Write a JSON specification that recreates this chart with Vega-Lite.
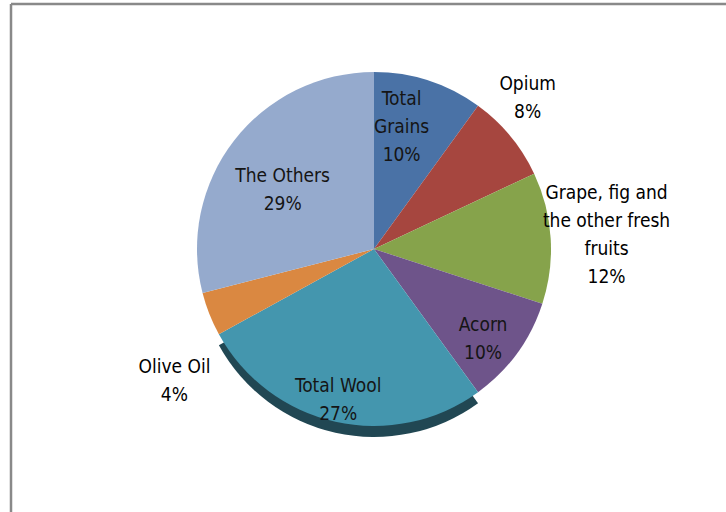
{
  "$schema": "https://vega.github.io/schema/vega-lite/v6.json",
  "autosize": {"type": "none"},
  "width": 726,
  "height": 510,
  "padding": {"left": 11, "top": 4, "right": 0, "bottom": 0},
  "background": "white",
  "view": {"stroke": "#898989", "strokeWidth": 2.5, "strokeDash": [1236, 726, 510, 0]},
  "config": {
    "text": {"font": "DejaVu Sans Condensed, Liberation Sans", "fontSize": 19, "lineHeight": 28, "lineBreak": "\n", "align": "center", "baseline": "middle"}
  },
  "data": {
    "values": [
      {"rank": 1, "name": "Total Grains", "label": "Total\nGrains\n10%", "value": 10},
      {"rank": 2, "name": "Opium", "label": "Opium\n8%", "value": 8},
      {"rank": 3, "name": "Grape", "label": "Grape, fig and\nthe other fresh\nfruits\n12%", "value": 12},
      {"rank": 4, "name": "Acorn", "label": "Acorn\n10%", "value": 10},
      {"rank": 5, "name": "Total Wool", "label": "Total Wool\n27%", "value": 27},
      {"rank": 6, "name": "Olive Oil", "label": "Olive Oil\n4%", "value": 4},
      {"rank": 7, "name": "The Others", "label": "The Others\n29%", "value": 29}
    ]
  },
  "encoding": {
    "theta": {"field": "value", "type": "quantitative", "stack": true},
    "order": {"field": "rank", "type": "quantitative"}
  },
  "layer": [
    {
      "mark": {"type": "arc", "radius": 177, "yOffset": 1},
      "encoding": {
        "fill": {"condition": {"test": "datum.name === 'Total Wool'", "value": "#214753"}, "value": "transparent"}
      }
    },
    {
      "mark": {"type": "arc", "radius": 177, "yOffset": -10},
      "encoding": {
        "color": {
          "field": "name", "type": "nominal", "legend": null,
          "scale": {
            "domain": ["Total Grains", "Opium", "Grape", "Acorn", "Total Wool", "Olive Oil", "The Others"],
            "range": ["#4A72A6", "#A6463F", "#86A34B", "#6E548A", "#4496AE", "#DA8841", "#95AACD"]
          }
        }
      }
    },
    {
      "mark": {"type": "text", "radius": 125, "dx": -11, "dy": -41, "color": "#151515"},
      "encoding": {"text": {"condition": {"test": "datum.name === 'Total Grains'", "field": "label"}, "value": ""}}
    },
    {
      "mark": {"type": "text", "radius": 215, "dx": -12, "dy": -38, "color": "#000000"},
      "encoding": {"text": {"condition": {"test": "datum.name === 'Opium'", "field": "label"}, "value": ""}}
    },
    {
      "mark": {"type": "text", "radius": 233, "dx": 0, "dy": -51, "color": "#000000"},
      "encoding": {"text": {"condition": {"test": "datum.name === 'Grape'", "field": "label"}, "value": ""}}
    },
    {
      "mark": {"type": "text", "radius": 141, "dx": -5, "dy": -17, "color": "#151515"},
      "encoding": {"text": {"condition": {"test": "datum.name === 'Acorn'", "field": "label"}, "value": ""}}
    },
    {
      "mark": {"type": "text", "radius": 155, "dx": -2, "dy": -24, "color": "#151515"},
      "encoding": {"text": {"condition": {"test": "datum.name === 'Total Wool'", "field": "label"}, "value": ""}}
    },
    {
      "mark": {"type": "text", "radius": 234, "dx": 18, "dy": 22, "color": "#000000"},
      "encoding": {"text": {"condition": {"test": "datum.name === 'Olive Oil'", "field": "label"}, "value": ""}}
    },
    {
      "mark": {"type": "text", "radius": 108, "dx": -6, "dy": -17, "color": "#151515"},
      "encoding": {"text": {"condition": {"test": "datum.name === 'The Others'", "field": "label"}, "value": ""}}
    }
  ]
}
